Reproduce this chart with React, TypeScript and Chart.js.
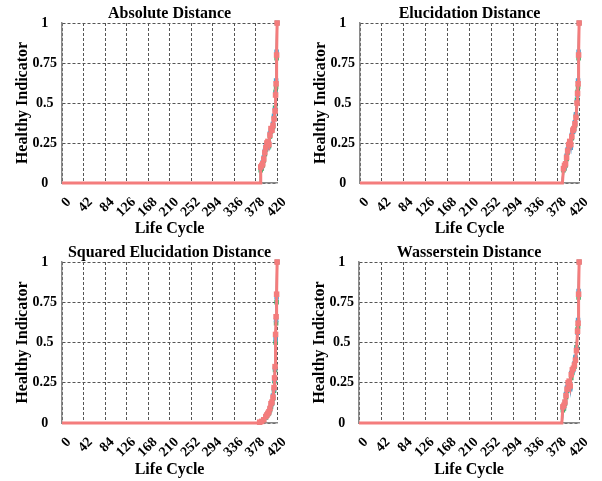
import React, { useEffect, useRef } from 'react';
import { Chart, registerables } from 'chart.js';
Chart.register(...registerables);

const lifeCycleTicks = [0, 42, 84, 126, 168, 210, 252, 294, 336, 378, 420];
const indicatorTicks = [0, 0.25, 0.5, 0.75, 1];

// Absolute Distance
const absCycle = [0, 387, 388, 390, 392, 394, 396, 398, 400, 402, 404, 406, 408, 410, 412, 414, 416, 417, 418, 419, 420];
const absRed = [0, 0, 0.1, 0.11, 0.12, 0.15, 0.19, 0.22, 0.25, 0.26, 0.24, 0.3, 0.34, 0.33, 0.36, 0.4, 0.45, 0.55, 0.62, 0.8, 1.0];
const absGreen = [0, 0, 0.08, 0.09, 0.11, 0.14, 0.18, 0.21, 0.23, 0.22, 0.23, 0.29, 0.32, 0.34, 0.35, 0.41, 0.47, 0.57, 0.6, 0.78, 1.0];
const absBlue = [0, 0, 0.1, 0.1, 0.13, 0.16, 0.2, 0.23, 0.24, 0.22, 0.25, 0.31, 0.33, 0.33, 0.37, 0.42, 0.46, 0.56, 0.64, 0.82, 1.0];

// Elucidation Distance
const eluCycle = [0, 388, 390, 392, 394, 396, 398, 400, 402, 404, 406, 408, 410, 412, 414, 416, 417, 418, 419, 420];
const eluRed = [0, 0, 0.09, 0.11, 0.12, 0.16, 0.2, 0.24, 0.26, 0.24, 0.29, 0.33, 0.34, 0.37, 0.41, 0.5, 0.56, 0.62, 0.8, 1.0];
const eluGreen = [0, 0, 0.08, 0.09, 0.11, 0.15, 0.19, 0.22, 0.23, 0.23, 0.28, 0.32, 0.34, 0.36, 0.42, 0.52, 0.57, 0.6, 0.78, 1.0];
const eluBlue = [0, 0, 0.09, 0.1, 0.12, 0.17, 0.21, 0.23, 0.25, 0.22, 0.3, 0.32, 0.33, 0.38, 0.43, 0.51, 0.55, 0.64, 0.82, 1.0];

// Squared Elucidation Distance
const sqCycle = [0, 382, 386, 390, 394, 398, 400, 402, 404, 406, 408, 410, 412, 414, 415, 416, 417, 418, 419, 420];
const sqRed = [0, 0, 0.005, 0.01, 0.02, 0.04, 0.05, 0.06, 0.07, 0.09, 0.12, 0.13, 0.16, 0.22, 0.28, 0.35, 0.55, 0.66, 0.8, 1.0];
const sqGreen = [0, 0, 0.004, 0.008, 0.018, 0.035, 0.045, 0.055, 0.06, 0.08, 0.1, 0.12, 0.15, 0.2, 0.26, 0.33, 0.5, 0.62, 0.75, 1.0];
const sqBlue = [0, 0, 0.005, 0.01, 0.02, 0.038, 0.05, 0.06, 0.065, 0.085, 0.11, 0.125, 0.17, 0.21, 0.27, 0.34, 0.52, 0.64, 0.78, 1.0];

// Wasserstein Distance
const wasCycle = [0, 387, 389, 391, 393, 395, 397, 399, 401, 403, 405, 407, 409, 411, 413, 415, 417, 418, 419, 420];
const wasRed = [0, 0, 0.1, 0.11, 0.13, 0.17, 0.21, 0.25, 0.26, 0.23, 0.3, 0.33, 0.34, 0.36, 0.39, 0.45, 0.57, 0.62, 0.8, 1.0];
const wasGreen = [0, 0, 0.08, 0.09, 0.12, 0.16, 0.2, 0.22, 0.23, 0.22, 0.28, 0.31, 0.34, 0.35, 0.4, 0.47, 0.58, 0.6, 0.78, 1.0];
const wasBlue = [0, 0, 0.1, 0.1, 0.13, 0.18, 0.22, 0.24, 0.25, 0.21, 0.31, 0.32, 0.33, 0.37, 0.41, 0.46, 0.56, 0.64, 0.82, 1.0];

const SALMON = '#F47C7C';
const GREEN = '#3FB06A';
const BLUE = '#4BA6D6';
const FONT = '"Liberation Serif", "Times New Roman", serif';

type PanelProps = {
  title: string;
  cycle: number[];
  red: number[];
  green: number[];
  blue: number[];
  left: number;
  top: number;
  width: number;
  height: number;
  yW: number;
  padR: number;
  plotTop: number;
  plotBottom: number;
};

function Panel(p: PanelProps) {
  const ref = useRef<HTMLCanvasElement>(null);
  useEffect(() => {
    const pts = (ys: number[]) => p.cycle.map((x, i) => ({ x, y: ys[i] }));
    const mk = (label: string, ys: number[], color: string, w: number) => ({
      label,
      data: pts(ys),
      borderColor: color,
      backgroundColor: color,
      borderWidth: w,
      pointRadius: (c: any) => (c.raw && c.raw.y === 0 ? 0 : 1.8),
      pointStyle: 'rect' as const,
      tension: 0,
      clip: 6,
    });
    const chart = new Chart(ref.current!, {
      type: 'line',
      data: {
        datasets: [
          mk('A', p.red, SALMON, 3),
          mk('B', p.blue, BLUE, 2),
          mk('C', p.green, GREEN, 2),
        ],
      },
      options: {
        animation: false,
        responsive: false,
        events: [],
        layout: { padding: { top: p.plotTop - 22, right: p.padR, left: 0, bottom: 0 } },
        plugins: {
          legend: { display: false },
          tooltip: { enabled: false },
          title: {
            display: true,
            text: p.title,
            fullSize: false,
            color: '#000',
            font: { family: FONT, size: 16, weight: 'bold', lineHeight: 1 },
            padding: { top: 5, bottom: 1 },
          },
        },
        scales: {
          x: {
            type: 'linear',
            min: 0,
            max: 420,
            afterBuildTicks: (s: any) => {
              s.ticks = lifeCycleTicks.map((v) => ({ value: v }));
            },
            afterFit: (s: any) => {
              s.height = p.height - p.plotBottom;
            },
            ticks: {
              autoSkip: false,
              maxRotation: 45,
              minRotation: 45,
              padding: 11,
              labelOffset: 7,
              color: '#000',
              font: { family: FONT, size: 14, weight: 'bold' },
              callback: (v: any) => String(v),
            },
            grid: { color: '#555', lineWidth: 1, drawTicks: false },
            border: { display: true, color: '#8a8a8a', width: 1.5, dash: [3, 2] },
            title: {
              display: true,
              text: 'Life Cycle',
              color: '#000',
              font: { family: FONT, size: 16, weight: 'bold', lineHeight: 1.2 },
              padding: { top: 0, bottom: 2 },
            },
          },
          y: {
            type: 'linear',
            min: 0,
            max: 1,
            afterBuildTicks: (s: any) => {
              s.ticks = indicatorTicks.map((v) => ({ value: v }));
            },
            afterFit: (s: any) => {
              s.width = p.yW;
            },
            ticks: {
              crossAlign: 'center',
              padding: 5,
              color: '#000',
              font: { family: FONT, size: 14, weight: 'bold' },
              callback: (v: any) => String(v),
            },
            grid: { color: '#555', lineWidth: 1, drawTicks: false },
            border: { display: true, color: '#8a8a8a', width: 1.5, dash: [3, 2] },
            title: {
              display: true,
              text: 'Healthy Indicator',
              color: '#000',
              font: { family: FONT, size: 16, weight: 'bold', lineHeight: 1.2 },
              padding: { top: p.yW - 49, bottom: 0 },
            },
          },
        },
      } as any,
    });
    return () => chart.destroy();
  }, []);
  return (
    <div style={{ position: 'absolute', left: p.left, top: p.top, width: p.width, height: p.height }}>
      <canvas ref={ref} width={p.width} height={p.height} style={{ width: p.width, height: p.height, display: 'block' }} />
    </div>
  );
}

export default function App() {
  return (
    <div style={{ position: 'absolute', left: 0, top: 0, width: 602, height: 481, background: '#fff' }}>
      <Panel title="Absolute Distance" cycle={absCycle} red={absRed} green={absGreen} blue={absBlue}
        left={0} top={0} width={300} height={240} yW={62} padR={12} plotTop={23} plotBottom={183} />
      <Panel title="Elucidation Distance" cycle={eluCycle} red={eluRed} green={eluGreen} blue={eluBlue}
        left={300} top={0} width={302} height={240} yW={60} padR={18} plotTop={23} plotBottom={183} />
      <Panel title="Squared Elucidation Distance" cycle={sqCycle} red={sqRed} green={sqGreen} blue={sqBlue}
        left={0} top={240} width={300} height={241} yW={62} padR={12} plotTop={22} plotBottom={183} />
      <Panel title="Wasserstein Distance" cycle={wasCycle} red={wasRed} green={wasGreen} blue={wasBlue}
        left={300} top={240} width={302} height={241} yW={59} padR={18} plotTop={22} plotBottom={183} />
    </div>
  );
}
